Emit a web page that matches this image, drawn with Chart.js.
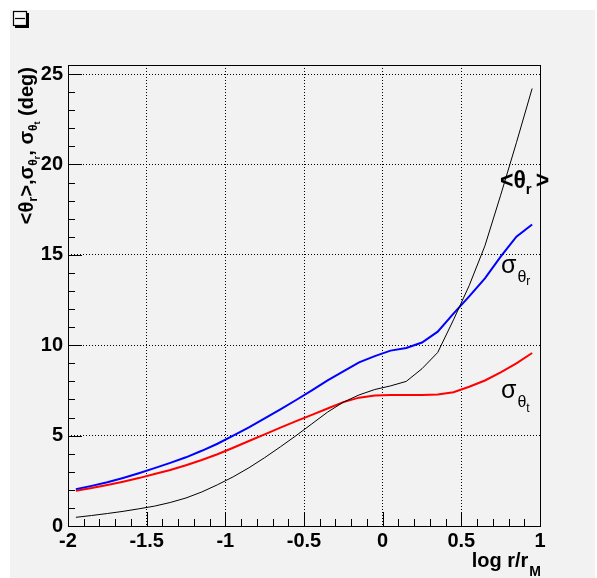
<!DOCTYPE html>
<html><head><meta charset="utf-8">
<script src="https://cdn.jsdelivr.net/npm/chart.js@4.4.1/dist/chart.umd.min.js"></script>
<style>html,body{margin:0;padding:0;background:#fff;overflow:hidden}</style>
</head><body>
<canvas id="c" width="597" height="578" style="display:block;width:597px;height:578px"></canvas>
<script>
// ---- data ----
const logR = [-1.95,-1.85,-1.75,-1.65,-1.55,-1.45,-1.35,-1.25,-1.15,-1.05,-0.95,-0.85,-0.75,-0.65,-0.55,-0.45,-0.35,-0.25,-0.15,-0.05,0.05,0.15,0.25,0.35,0.45,0.55,0.65,0.75,0.85,0.95];
const meanThetaR = [0.48,0.58,0.69,0.81,0.95,1.1,1.3,1.55,1.88,2.28,2.72,3.22,3.78,4.38,5.0,5.65,6.3,6.85,7.25,7.55,7.75,8.0,8.7,9.6,11.4,13.3,15.5,18.3,21.2,24.2];
const sigmaThetaR = [2.04,2.22,2.42,2.66,2.92,3.2,3.49,3.8,4.16,4.55,5.0,5.45,5.95,6.45,6.97,7.5,8.05,8.55,9.05,9.4,9.7,9.85,10.15,10.75,11.75,12.7,13.7,14.9,16.0,16.68];
const sigmaThetaT = [1.95,2.1,2.27,2.45,2.65,2.88,3.1,3.36,3.65,3.97,4.33,4.7,5.07,5.44,5.8,6.15,6.5,6.85,7.1,7.22,7.25,7.25,7.25,7.27,7.4,7.7,8.05,8.5,9.0,9.57];
const xTickLabels = {'-20':'-2','-15':'-1.5','-10':'-1','-5':'-0.5','0':'0','5':'0.5','10':'1'};
const yTickLabels = {'0':'0','5':'5','10':'10','15':'15','20':'20','25':'25'};

const FONT = '"Liberation Sans", Arial, Helvetica, sans-serif';
const pts = (ys) => logR.map((x, i) => ({x: x, y: ys[i]}));

function drawRich(ctx, x, y, segs, align) {
  let w = 0;
  segs.forEach(s => { ctx.font = s.f; s.w = ctx.measureText(s.t).width; w += s.w + (s.dx || 0); });
  let cx = align === 'right' ? x - w : (align === 'center' ? x - w / 2 : x);
  ctx.textAlign = 'left'; ctx.textBaseline = 'alphabetic'; ctx.fillStyle = '#000';
  segs.forEach(s => { ctx.font = s.f; cx += (s.dx || 0); ctx.fillText(s.t, cx, y + (s.dy || 0)); cx += s.w; });
}

const rootPlugin = {
  id: 'rootStyle',
  beforeDraw(chart) {
    const ctx = chart.ctx;
    ctx.save();
    ctx.fillStyle = '#ffffff'; ctx.fillRect(0, 0, 597, 578);
    ctx.fillStyle = '#f2f2f2'; ctx.fillRect(10, 10, 585, 568);
    ctx.restore();
  },
  afterDraw(chart) {
    const ctx = chart.ctx, a = chart.chartArea;
    const xs = chart.scales.x, ys = chart.scales.y;
    ctx.save();
    // tick marks (inside)
    ctx.strokeStyle = '#000'; ctx.lineWidth = 1;
    ctx.beginPath();
    for (let k = -19; k <= 9; k++) {
      const px = Math.round(xs.getPixelForValue(k / 10)) + 0.5;
      const len = (k % 5 === 0) ? 14 : 7;
      ctx.moveTo(px, a.bottom); ctx.lineTo(px, a.bottom - len);
    }
    for (let k = 1; k <= 25; k++) {
      const py = Math.round(ys.getPixelForValue(k)) + 0.5;
      const len = (k % 5 === 0) ? 14 : 7;
      ctx.moveTo(a.left, py); ctx.lineTo(a.left + len, py);
    }
    ctx.stroke();
    // frame
    ctx.strokeRect(Math.round(a.left) + 0.5, Math.round(a.top) + 0.5, Math.round(a.right - a.left), Math.round(a.bottom - a.top));

    // curve labels
    drawRich(ctx, 500, 188, [
      {t: '<θ', f: 'bold 23px ' + FONT},
      {t: 'r', f: 'bold 15px ' + FONT, dy: 6},
      {t: '>', f: 'bold 23px ' + FONT, dx: 4}
    ], 'left');
    drawRich(ctx, 501, 273, [
      {t: 'σ', f: '25px ' + FONT},
      {t: 'θ', f: '16px ' + FONT, dy: 8.5, dx: 1},
      {t: 'r', f: '12px ' + FONT, dy: 12}
    ], 'left');
    drawRich(ctx, 501, 398, [
      {t: 'σ', f: '25px ' + FONT},
      {t: 'θ', f: '16px ' + FONT, dy: 8.5, dx: 1},
      {t: 't', f: '12px ' + FONT, dy: 14}
    ], 'left');

    // x title
    drawRich(ctx, 541, 567, [
      {t: 'log r/r', f: 'bold 20px ' + FONT},
      {t: 'M', f: 'bold 14px ' + FONT, dy: 9, dx: 1}
    ], 'right');

    // y title (rotated)
    ctx.save();
    ctx.translate(33, 67);
    ctx.rotate(-Math.PI / 2);
    drawRich(ctx, 0, 0, [
      {t: '<θ', f: 'bold 20px ' + FONT},
      {t: 'r', f: 'bold 13px ' + FONT, dy: 4},
      {t: '>,σ', f: 'bold 20px ' + FONT},
      {t: 'θ', f: 'bold 12px ' + FONT, dy: 4},
      {t: 'r', f: 'bold 9px ' + FONT, dy: 7},
      {t: ', σ', f: 'bold 20px ' + FONT},
      {t: 'θ', f: 'bold 12px ' + FONT, dy: 4},
      {t: 't', f: 'bold 9px ' + FONT, dy: 7},
      {t: ' (deg)', f: 'bold 20px ' + FONT}
    ], 'right');
    ctx.restore();

    // little canvas icon, top-left
    ctx.fillStyle = '#000';
    ctx.fillRect(15, 13, 14, 15);
    ctx.fillStyle = '#f7f7f7';
    ctx.fillRect(13.5, 11.5, 13, 14);
    ctx.strokeStyle = '#000'; ctx.lineWidth = 1.2;
    ctx.strokeRect(13.5, 11.5, 13, 14);
    ctx.beginPath(); ctx.moveTo(15, 18.5); ctx.lineTo(25, 18.5); ctx.stroke();
    ctx.restore();
  }
};

new Chart(document.getElementById('c'), {
  type: 'line',
  data: {
    datasets: [
      {label: '<θr>', data: pts(meanThetaR), borderColor: '#000000', borderWidth: 1, pointRadius: 0, tension: 0, fill: false},
      {label: 'σθr', data: pts(sigmaThetaR), borderColor: '#0000ff', borderWidth: 2, pointRadius: 0, tension: 0, fill: false},
      {label: 'σθt', data: pts(sigmaThetaT), borderColor: '#ff0000', borderWidth: 2, pointRadius: 0, tension: 0, fill: false}
    ]
  },
  options: {
    responsive: false,
    animation: false,
    devicePixelRatio: 1,
    layout: {padding: {left: 0, top: 65, right: 57, bottom: 0}},
    plugins: {legend: {display: false}, tooltip: {enabled: false}},
    scales: {
      x: {
        type: 'linear', min: -2, max: 1,
        afterFit: (s) => { s.height = 52; },
        ticks: {
          stepSize: 0.1, includeBounds: false, autoSkip: false, maxRotation: 0, minRotation: 0,
          padding: 3, color: '#000', font: {family: FONT, size: 20, weight: 'bold'},
          callback: (v) => { const k = Math.round(v * 10); return xTickLabels[String(k)] || ''; }
        },
        grid: {
          drawTicks: false, tickLength: 0, lineWidth: 1,
          color: (c) => { const k = Math.round(c.tick.value * 10); return (k % 5 === 0 && k > -20 && k < 10) ? '#000' : 'rgba(0,0,0,0)'; }
        },
        border: {display: false, dash: [1, 2]}
      },
      y: {
        type: 'linear', min: 0, max: 25.5,
        afterFit: (s) => { s.width = 68; },
        ticks: {
          stepSize: 1, includeBounds: false, autoSkip: false,
          padding: 5, color: '#000', font: {family: FONT, size: 20, weight: 'bold'},
          callback: (v) => { const k = Math.round(v); return yTickLabels[String(k)] || ''; }
        },
        grid: {
          drawTicks: false, tickLength: 0, lineWidth: 1,
          color: (c) => { const k = Math.round(c.tick.value); return (k % 5 === 0 && k > 0) ? '#000' : 'rgba(0,0,0,0)'; }
        },
        border: {display: false, dash: [1, 2]}
      }
    }
  },
  plugins: [rootPlugin]
});
</script>
</body></html>
